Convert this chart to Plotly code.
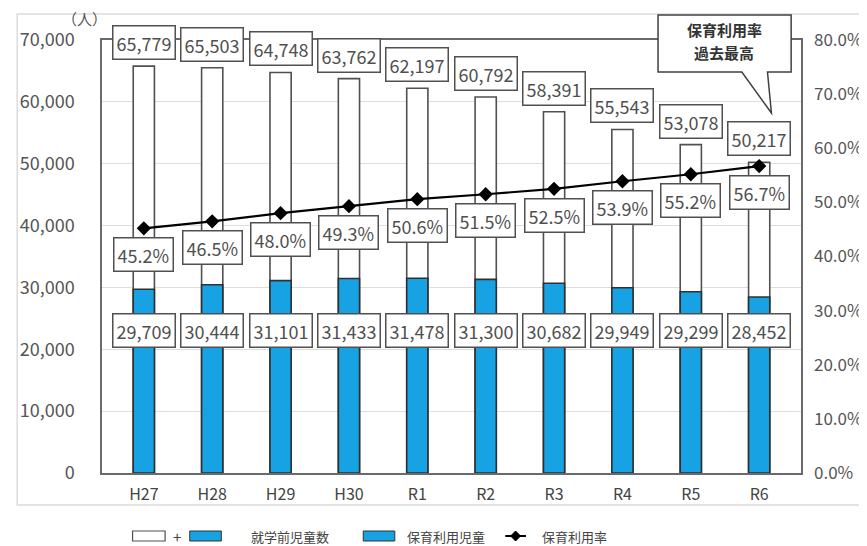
import plotly.graph_objects as go

years = ["H27", "H28", "H29", "H30", "R1", "R2", "R3", "R4", "R5", "R6"]
preschool_total = [65779, 65503, 64748, 63762, 62197, 60792, 58391, 55543, 53078, 50217]
childcare_users = [29709, 30444, 31101, 31433, 31478, 31300, 30682, 29949, 29299, 28452]
usage_rate = [45.2, 46.5, 48.0, 49.3, 50.6, 51.5, 52.5, 53.9, 55.2, 56.7]

# page body has an 8px margin; compensate so the figure lands where the reference is
OFF = 8
W, H = 867, 546
L, R, T, B = 98 - OFF, 807 - OFF, 40 - OFF, 473 - OFF
FONT = "Noto Sans CJK JP"
BLUE = "#17A2E4"


def px(x):
    return (x - OFF - L) / (R - L)


def py(y):
    return (B - (y - OFF)) / (B - T)


fig = go.Figure()
fig.add_trace(go.Bar(
    x=years, y=preschool_total, width=0.31,
    marker=dict(color="white", line=dict(color="#505050", width=1.6)),
    showlegend=False, hoverinfo="skip"))
fig.add_trace(go.Bar(
    x=years, y=childcare_users, width=0.31,
    marker=dict(color=BLUE, line=dict(color="#303030", width=1.6)),
    showlegend=False))
fig.add_trace(go.Scatter(
    x=years, y=[v / 100 for v in usage_rate], yaxis="y2", mode="lines+markers",
    line=dict(color="black", width=2.2),
    marker=dict(symbol="diamond", size=11, color="black"),
    showlegend=False))

ann = []
box = dict(bgcolor="white", bordercolor="#505050", borderwidth=1.5, borderpad=3,
           showarrow=False, font=dict(family=FONT, size=18, color="#505050"))
for yr, t in zip(years, preschool_total):
    ann.append(dict(x=yr, y=t, xref="x", yref="y", text=f"{t:,}",
                    yanchor="bottom", yshift=6, **box))
for yr, c in zip(years, childcare_users):
    ann.append(dict(x=yr, y=23000, xref="x", yref="y", text=f"{c:,}",
                    yanchor="middle", **box))
for yr, r in zip(years, usage_rate):
    ann.append(dict(x=yr, y=r / 100, xref="x", yref="y2", text=f"{r:.1f}%",
                    yanchor="top", yshift=-9, **box))

# unit label
ann.append(dict(x=px(80), y=py(19), xref="paper", yref="paper", text="（人）",
                showarrow=False, xanchor="center", yanchor="middle",
                font=dict(family=FONT, size=15, color="#555")))

# callout text
for yy, txt in [(29, "保育利用率"), (52, "過去最高")]:
    ann.append(dict(x=px(729), y=py(yy), xref="paper", yref="paper",
                    text=f"<b>{txt}</b>", showarrow=False,
                    xanchor="center", yanchor="middle",
                    font=dict(family=FONT, size=15, color="#333")))

# legend texts
LY = 536
lf = dict(family=FONT, size=13, color="#444")
ann.append(dict(x=px(174), y=py(LY), xref="paper", yref="paper", text="+",
                showarrow=False, xanchor="center", yanchor="middle",
                font=dict(family=FONT, size=15, color="#444")))
for xx, txt in [(247, "就学前児童数"), (405, "保育利用児童"), (542, "保育利用率")]:
    ann.append(dict(x=px(xx), y=py(LY), xref="paper", yref="paper", text=txt,
                    showarrow=False, xanchor="left", yanchor="middle", font=lf))

shapes = []
# outer light border
shapes.append(dict(type="rect", xref="paper", yref="paper", layer="below",
                   x0=px(12), x1=px(890), y0=py(505), y1=py(14),
                   line=dict(color="#DCDCDC", width=1.5), fillcolor="rgba(0,0,0,0)"))
# legend symbols
shapes.append(dict(type="rect", xref="paper", yref="paper",
                   x0=px(129), x1=px(162), y0=py(LY + 5), y1=py(LY - 5),
                   line=dict(color="#505050", width=1.2), fillcolor="white"))
shapes.append(dict(type="rect", xref="paper", yref="paper",
                   x0=px(187), x1=px(219), y0=py(LY + 5), y1=py(LY - 5),
                   line=dict(color="#303030", width=1), fillcolor=BLUE))
shapes.append(dict(type="rect", xref="paper", yref="paper",
                   x0=px(363), x1=px(395), y0=py(LY + 5), y1=py(LY - 5),
                   line=dict(color="#303030", width=1), fillcolor=BLUE))
shapes.append(dict(type="line", xref="paper", yref="paper",
                   x0=px(507), x1=px(528), y0=py(LY), y1=py(LY),
                   line=dict(color="black", width=2)))
shapes.append(dict(type="path", xref="paper", yref="paper",
                   path=f"M {px(517.5)},{py(LY - 5)} L {px(522.5)},{py(LY)} L {px(517.5)},{py(LY + 5)} L {px(512.5)},{py(LY)} Z",
                   line=dict(color="black", width=1), fillcolor="black"))
# callout
pts = [(662, 15), (797, 15), (797, 72), (773, 72), (777, 113), (747, 72), (662, 72)]
path = "M " + " L ".join(f"{px(a)},{py(b)}" for a, b in pts) + " Z"
shapes.append(dict(type="path", xref="paper", yref="paper", path=path,
                   line=dict(color="#404040", width=1.5), fillcolor="white", layer="above"))

fig.update_layout(
    width=W, height=H,
    margin=dict(l=L, r=W - R, t=T, b=H - B),
    paper_bgcolor="white", plot_bgcolor="white",
    barmode="overlay", bargap=0.69,
    font=dict(family=FONT, color="#555"),
    xaxis=dict(showline=True, linecolor="#6A6A6A", linewidth=1.5, mirror=True,
               ticks="", tickfont=dict(family=FONT, size=16, color="#444"),
               ticklabelstandoff=6),
    yaxis=dict(range=[0, 70000], dtick=10000, tickformat=",d",
               showgrid=True, gridcolor="#DDDDDD", gridwidth=1.2,
               showline=True, linecolor="#6A6A6A", linewidth=1.5, mirror=True,
               zeroline=False, ticks="", ticklabelstandoff=22,
               tickfont=dict(family=FONT, size=18, color="#555")),
    yaxis2=dict(range=[0, 0.8], dtick=0.1, tickformat=".1%", overlaying="y",
                side="right", showgrid=False, zeroline=False, showline=False,
                ticks="", ticklabelstandoff=12,
                tickfont=dict(family=FONT, size=17, color="#555")),
    annotations=ann, shapes=shapes,
)

fig.write_html("out.html")
